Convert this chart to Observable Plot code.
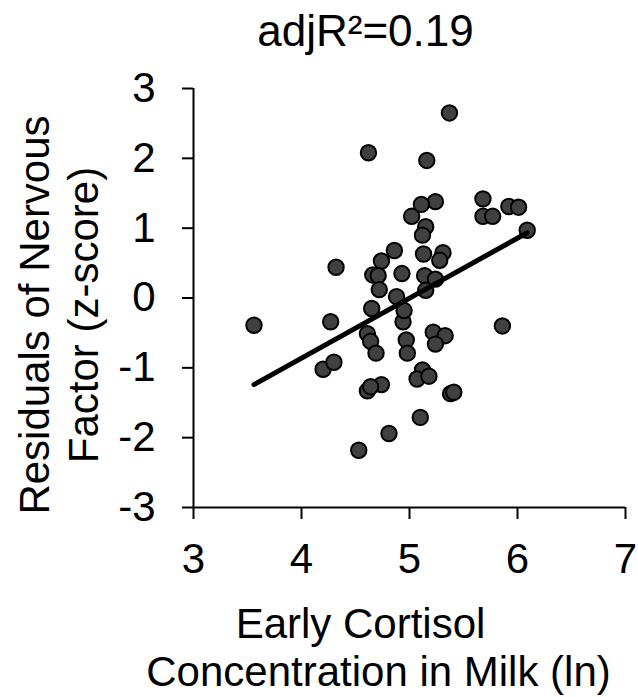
<!DOCTYPE html>
<html>
<head>
<meta charset="utf-8">
<script src="https://cdn.jsdelivr.net/npm/d3@7"></script>
<script src="https://cdn.jsdelivr.net/npm/@observablehq/plot@0.6"></script>
<style>
  html, body { margin: 0; padding: 0; background: #fff; }
  #chart svg { display: block; }
</style>
</head>
<body>
<div id="chart"></div>
<script>
// Early cortisol concentration in milk (ln)
const cortisol = [
  4.62, 5.02, 4.86, 4.74, 4.32, 4.66, 4.71, 4.93, 4.72, 4.88,
  5.37, 5.16, 5.68, 5.92, 6.01, 5.68, 5.77, 5.24, 5.11, 5.15,
  5.12, 6.09, 5.13, 5.31, 5.28, 5.14, 5.24, 5.15, 3.56, 4.27,
  4.20, 4.30, 4.61, 4.74, 4.64, 4.81, 4.53, 4.65, 4.61, 4.64,
  4.69, 4.94, 4.95, 4.97, 4.98, 5.22, 5.33, 5.24, 5.86, 5.12,
  5.07, 5.18, 5.38, 5.41, 5.10
];
// Residuals of nervous factor (z-score)
const residuals = [
  2.08, 1.17, 0.68, 0.53, 0.44, 0.33, 0.32, 0.35, 0.12, 0.02,
  2.65, 1.97, 1.42, 1.31, 1.30, 1.17, 1.17, 1.38, 1.34, 1.02,
  0.90, 0.97, 0.63, 0.65, 0.54, 0.32, 0.27, 0.11, -0.39, -0.34,
  -1.02, -0.92, -1.33, -1.24, -1.27, -1.94, -2.18, -0.15, -0.51, -0.62,
  -0.79, -0.34, -0.18, -0.60, -0.79, -0.49, -0.54, -0.66, -0.40, -1.03,
  -1.16, -1.12, -1.37, -1.35, -1.71
];
const xTicks = [3, 4, 5, 6, 7];
const yTicks = [-3, -2, -1, 0, 1, 2, 3];
const titleText = "adjR\u00B2=0.19";
const yLabelLines = ["Residuals of Nervous", "Factor (z-score)"];
const xLabelLines = ["Early Cortisol", "Concentration in Milk (ln)"];

const data = cortisol.map((x, i) => ({x, y: residuals[i]}));
const FONT = "'Liberation Sans', Arial, sans-serif";

const chart = Plot.plot({
  width: 638,
  height: 697,
  marginLeft: 193,
  marginRight: 13,
  marginTop: 88,
  marginBottom: 190,
  style: {fontFamily: FONT, fontSize: "42px", color: "#000", background: "#fff"},
  x: {domain: [3, 7]},
  y: {domain: [-3, 3]},
  marks: [
    Plot.ruleX([xTicks[0]], {stroke: "#000", strokeWidth: 2}),
    Plot.ruleY([yTicks[0]], {stroke: "#000", strokeWidth: 2}),
    Plot.axisX({ticks: xTicks, tickSize: 12, tickPadding: 24, tickFormat: d => String(d), label: null, strokeWidth: 2, fontSize: 42}),
    Plot.axisY({ticks: yTicks, tickSize: 11, tickPadding: 27, tickFormat: d => String(d), label: null, strokeWidth: 2, fontSize: 42}),
    Plot.dot(data, {x: "x", y: "y", r: 7.7, fill: "#404040", stroke: "#000", strokeWidth: 2}),
    Plot.linearRegressionY(data, {x: "x", y: "y", ci: 0, stroke: "#000", strokeWidth: 5, strokeLinecap: "round"}),
    Plot.text([titleText], {frameAnchor: "top", textAnchor: "middle", lineAnchor: "bottom", dx: -44, dy: -43, fontSize: 44, fill: "#000"}),
    Plot.text([yLabelLines[0]], {frameAnchor: "left", textAnchor: "middle", lineAnchor: "bottom", rotate: -90, dx: -145, dy: 17, fontSize: 42, fill: "#000"}),
    Plot.text([yLabelLines[1]], {frameAnchor: "left", textAnchor: "middle", lineAnchor: "bottom", rotate: -90, dx: -96, dy: 17, fontSize: 42, fill: "#000"}),
    Plot.text([xLabelLines[0]], {frameAnchor: "bottom", textAnchor: "middle", lineAnchor: "bottom", dx: -49, dy: 130, fontSize: 42, fill: "#000"}),
    Plot.text([xLabelLines[1]], {frameAnchor: "bottom", textAnchor: "middle", lineAnchor: "bottom", dx: -31, dy: 178, fontSize: 42, fill: "#000"})
  ]
});
document.getElementById("chart").appendChild(chart);
</script>
</body>
</html>
